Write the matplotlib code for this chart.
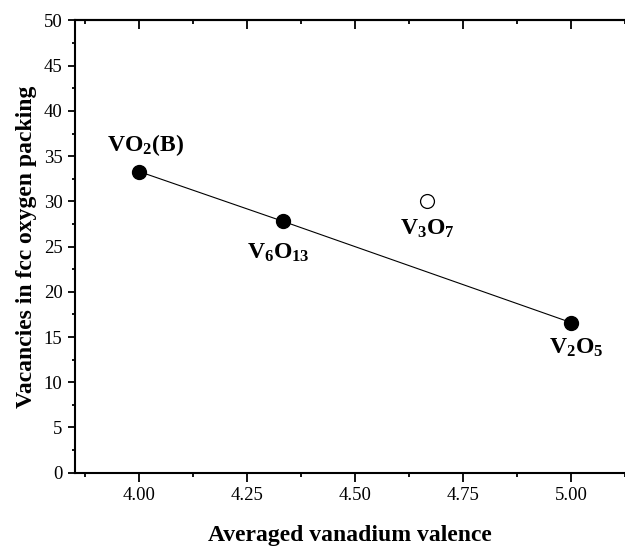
import numpy as np
import matplotlib.pyplot as plt
from matplotlib.ticker import MultipleLocator, NullFormatter

plt.rcParams['font.family'] = ['Liberation Serif', 'DejaVu Serif']
plt.rcParams['mathtext.fontset'] = 'custom'
plt.rcParams['mathtext.rm'] = 'Liberation Serif'
plt.rcParams['mathtext.bf'] = 'Liberation Serif:bold'

# data
valence = [4.0, 4.333, 5.0]
vacancies = [33.3, 27.8, 16.6]
names = [r'$\mathbf{VO_2(B)}$', r'$\mathbf{V_6O_{13}}$', r'$\mathbf{V_2O_5}$']

open_valence = [4.667]
open_vacancies = [30.0]
open_names = [r'$\mathbf{V_3O_7}$']

fig = plt.figure(figsize=(6.25, 5.46), dpi=100)
ax = fig.add_axes([0.12, 0.1343, 0.88, 0.8282])

ax.plot(valence, vacancies, color='black', lw=0.8, marker='o', ms=10,
        mfc='black', mec='black', clip_on=False)
ax.plot(open_valence, open_vacancies, ls='none', marker='o', ms=10,
        mfc='white', mec='black', mew=0.9)

# label offsets in points
offs = [(5, 19), (-3, -23), (4, -18)]
for x, y, s, o in zip(valence, vacancies, names, offs):
    ax.annotate(s, (x, y), xytext=o, textcoords='offset points',
                ha='center', va='center', fontsize=17)
for x, y, s in zip(open_valence, open_vacancies, open_names):
    ax.annotate(s, (x, y), xytext=(0, -20), textcoords='offset points',
                ha='center', va='center', fontsize=17)

ax.set_xlim(3.852, 5.125)
ax.set_ylim(0, 50)
ax.xaxis.set_major_locator(MultipleLocator(0.25))
ax.xaxis.set_minor_locator(MultipleLocator(0.125))
ax.yaxis.set_major_locator(MultipleLocator(5))
ax.yaxis.set_minor_locator(MultipleLocator(2.5))
ax.xaxis.set_major_formatter(plt.FormatStrFormatter('%.2f'))

ax.spines['right'].set_visible(False)
for sp in ['left', 'bottom', 'top']:
    ax.spines[sp].set_linewidth(1.5)

ax.tick_params(axis='x', which='both', bottom=True, top=False, direction='out',
               labelsize=13.5, width=1.3, pad=4)
ax.tick_params(axis='x', which='major', length=6.5)
ax.tick_params(axis='x', which='minor', length=3)
ax.tick_params(axis='y', which='both', left=True, right=False, direction='out',
               labelsize=13.5, width=1.3, pad=4)
ax.tick_params(axis='y', which='major', length=5)
ax.tick_params(axis='y', which='minor', length=2.5)

# top axis: ticks point inward
top = ax.secondary_xaxis('top')
top.xaxis.set_major_locator(MultipleLocator(0.25))
top.xaxis.set_minor_locator(MultipleLocator(0.125))
top.xaxis.set_major_formatter(NullFormatter())
top.spines['top'].set_linewidth(1.5)
top.tick_params(axis='x', which='both', direction='in', width=1.3)
top.tick_params(axis='x', which='major', length=6.5)
top.tick_params(axis='x', which='minor', length=3)

ax.set_xlabel('Averaged vanadium valence', fontsize=17, fontweight='bold', labelpad=15)
ax.set_ylabel('Vacancies in fcc oxygen packing', fontsize=17, fontweight='bold', labelpad=5)

fig.savefig('out.png', dpi=100)
